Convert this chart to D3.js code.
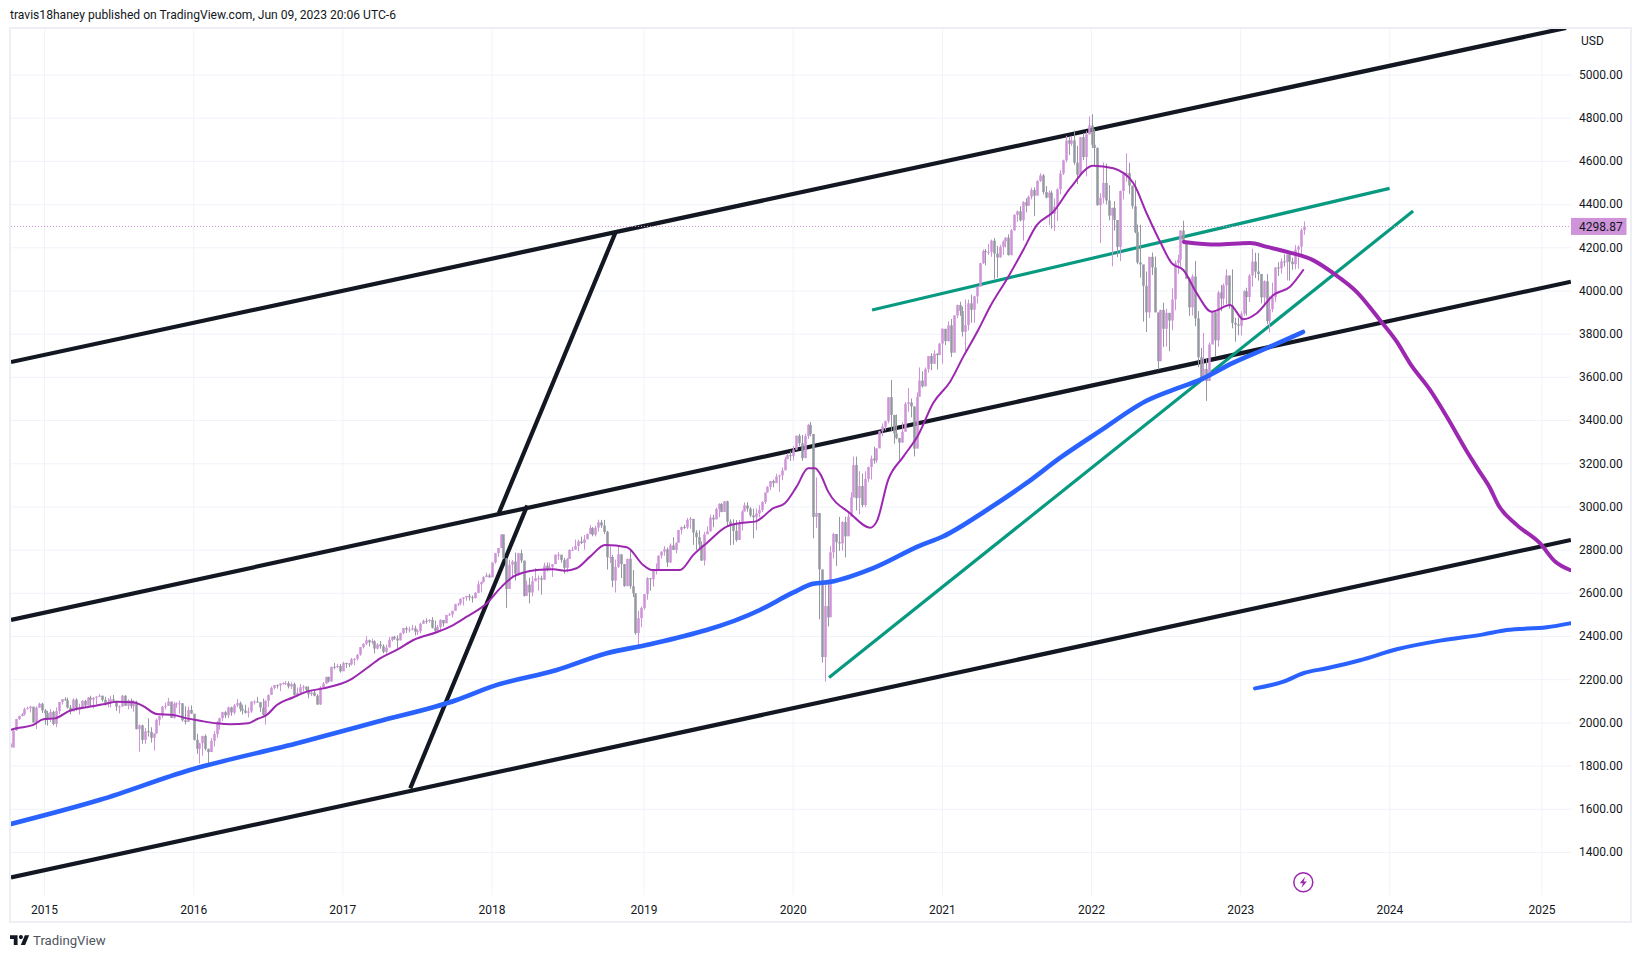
<!DOCTYPE html>
<html><head><meta charset="utf-8">
<script src="https://d3js.org/d3.v7.min.js"></script>
<style>html,body{margin:0;padding:0;background:#fff}svg{display:block}text{font-family:Roboto,sans-serif}</style>
</head><body><svg id="c" width="1641" height="958"></svg>
<script>
// Weekly S&P 500 candles, starting week of 13 Oct 2014
const firstOpen = 1905;
const closes = [
1886,1965,2018,2032,2040,2064,2068,2075,2002,2071,2089,2058,
2045,2019,2051,1995,2055,2097,2110,2105,2071,2053,2108,2061,2067,2102,2081,2117,2108,2116,2122,2126,2107,2092,2094,2109,2102,2076,2076,2126,2079,2104,2078,2092,1971,1989,1921,1961,1958,1931,1951,2014,2033,2075,2079,2099,2023,2089,2090,2091,2012,2005,2060,2043,
1922,1880,1906,1940,1880,1865,1917,1948,1999,2022,2050,2035,2072,2048,2081,2092,2065,2057,2047,2053,2099,2099,2096,2071,2037,2103,2130,2162,2175,2174,2183,2184,2184,2169,2180,2128,2139,2165,2168,2153,2133,2141,2126,2085,2164,2182,2213,2192,2260,2258,2264,2239,
2277,2275,2271,2295,2297,2316,2351,2367,2383,2373,2378,2344,2363,2355,2329,2349,2384,2399,2391,2382,2416,2439,2432,2433,2438,2423,2425,2459,2473,2472,2477,2441,2425,2444,2477,2461,2500,2502,2519,2549,2553,2575,2581,2588,2582,2578,2602,2642,2652,2675,2683,2674,
2743,2786,2810,2873,2762,2620,2732,2747,2691,2786,2752,2588,2640,2604,2656,2670,2670,2663,2728,2713,2721,2735,2779,2779,2755,2718,2759,2801,2802,2819,2840,2833,2850,2874,2902,2872,2904,2929,2914,2885,2767,2768,2659,2723,2781,2736,2633,2760,2633,2600,2416,2485,2532,
2596,2670,2665,2706,2707,2775,2793,2804,2743,2822,2801,2834,2893,2907,2905,2940,2945,2881,2860,2826,2752,2873,2887,2950,2942,2990,3014,2977,3026,2932,2918,2889,2847,2926,2979,3007,2992,2961,2952,2970,2986,3023,3067,3093,3120,3110,3141,3146,3169,3221,3240,3235,
3265,3330,3295,3226,3328,3380,3338,2954,2972,2711,2305,2541,2489,2790,2875,2837,2831,2930,2864,2955,3044,3194,3041,3097,3009,3130,3185,3224,3215,3271,3351,3372,3397,3508,3426,3340,3319,3298,3348,3477,3484,3465,3270,3510,3585,3558,3638,3699,3663,3709,3703,3756,
3825,3768,3841,3714,3887,3935,3907,3811,3842,3943,3913,3975,4020,4129,4185,4180,4181,4233,4173,4155,4204,4229,4247,4166,4280,4352,4369,4327,4411,4395,4436,4468,4441,4509,4535,4458,4432,4455,4357,4391,4471,4544,4605,4697,4682,4697,4594,4538,4712,4620,4725,4766,
4677,4662,4397,4431,4500,4419,4349,4385,4329,4204,4463,4543,4546,4488,4393,4272,4132,4123,4024,3901,4158,4109,3901,3675,3912,3825,3899,3863,3961,4130,4145,4280,4228,4057,3924,4067,3873,3693,3586,3639,3583,3752,3901,3771,3993,3965,4026,4072,3934,3852,3845,3839,
3895,3999,3972,4071,4136,4090,4079,3970,4045,3861,3916,3971,4109,4105,4137,4133,4169,4136,4124,4191,4205,4282,4298.87];
const highs = [
1906,1965,2018,2034,2046,2071,2075,2079,2075,2077,2094,2093,
2064,2056,2064,2057,2072,2097,2110,2119,2117,2083,2114,2114,2089,2106,2107,2120,2126,2120,2123,2134,2126,2121,2115,2126,2130,2085,2082,2129,2128,2110,2113,2105,2103,1993,1992,1976,2021,1980,1952,2020,2034,2079,2094,2116,2093,2097,2095,2104,2090,2077,2076,2081,
2038,1950,1908,1940,1947,1881,1930,1962,2009,2024,2052,2056,2075,2075,2087,2111,2099,2084,2084,2071,2100,2105,2120,2096,2113,2104,2131,2169,2176,2178,2183,2188,2194,2193,2188,2187,2164,2180,2175,2169,2169,2147,2152,2133,2171,2189,2214,2214,2260,2278,2274,2273,
2283,2279,2276,2301,2300,2319,2352,2368,2401,2386,2390,2382,2370,2379,2364,2362,2398,2400,2403,2406,2418,2440,2446,2446,2454,2450,2433,2464,2478,2484,2480,2490,2474,2454,2480,2475,2500,2509,2519,2552,2555,2576,2582,2588,2597,2590,2606,2658,2655,2680,2695,2692,
2743,2787,2810,2873,2870,2763,2755,2754,2789,2787,2802,2741,2659,2672,2680,2717,2683,2682,2742,2743,2742,2736,2779,2791,2774,2764,2764,2804,2816,2849,2848,2863,2870,2877,2916,2907,2912,2941,2940,2940,2889,2817,2778,2756,2815,2775,2694,2760,2800,2708,2601,2520,2539,
2597,2675,2670,2708,2738,2775,2795,2819,2812,2831,2860,2836,2894,2910,2917,2949,2954,2931,2892,2892,2841,2884,2910,2964,2964,2996,3017,3018,3028,3029,2943,2943,2939,2940,2985,3021,3022,3000,2992,2993,3008,3027,3067,3097,3120,3127,3154,3150,3183,3232,3248,3258,
3282,3330,3338,3333,3338,3385,3393,3338,3137,2882,2601,2638,2641,2819,2880,2871,2954,2934,2955,2980,3068,3233,3233,3165,3155,3165,3186,3238,3279,3272,3352,3387,3399,3509,3588,3425,3428,3320,3393,3486,3550,3502,3465,3530,3646,3628,3646,3699,3712,3726,3712,3760,
3827,3823,3860,3870,3887,3937,3950,3928,3960,3960,3983,3978,4020,4130,4192,4195,4218,4238,4245,4209,4214,4234,4249,4262,4287,4356,4372,4393,4416,4429,4442,4478,4480,4513,4545,4541,4486,4466,4465,4429,4475,4559,4608,4718,4714,4718,4743,4672,4713,4731,4740,4808,
4818,4749,4665,4453,4595,4590,4490,4385,4416,4327,4465,4546,4637,4593,4471,4513,4308,4307,4081,4090,4158,4178,4160,3837,3914,3946,3918,3891,4012,4141,4167,4281,4325,4203,4062,4077,4139,3907,3737,3806,3685,3762,3905,3905,4001,4028,4034,4101,4052,4100,3876,3878,
3906,4003,4015,4078,4196,4177,4176,4050,4049,4078,3975,4039,4110,4133,4150,4170,4169,4186,4154,4212,4212,4290,4322];
const lows = [
1820,1886,1964,2014,2030,2034,2064,2049,2002,1972,2069,2046,
1992,1988,2004,1989,1980,2041,2085,2103,2067,2039,2055,2056,2039,2066,2072,2085,2077,2067,2085,2120,2099,2081,2072,2072,2097,2056,2044,2076,2079,2063,2067,2052,1970,1867,1903,1903,1937,1909,1872,1950,1988,2022,2062,2080,2022,2020,2070,2042,2006,1993,2005,2043,
1918,1857,1812,1848,1872,1810,1871,1891,1931,1969,2008,2022,2023,2033,2039,2073,2052,2039,2043,2025,2047,2085,2094,2050,2033,1992,2074,2131,2155,2159,2147,2178,2176,2160,2157,2127,2119,2139,2145,2142,2114,2124,2123,2084,2083,2156,2183,2187,2192,2248,2254,2233,
2245,2254,2258,2266,2267,2289,2311,2345,2360,2354,2364,2322,2340,2344,2322,2322,2358,2377,2385,2344,2382,2410,2416,2419,2428,2405,2407,2416,2458,2459,2464,2437,2417,2417,2428,2446,2474,2497,2488,2520,2541,2545,2544,2566,2566,2557,2576,2601,2605,2651,2676,2673,
2683,2737,2768,2809,2759,2532,2622,2675,2659,2682,2741,2585,2593,2553,2586,2660,2612,2594,2662,2702,2707,2676,2735,2755,2742,2691,2698,2769,2796,2808,2795,2828,2802,2854,2884,2864,2864,2886,2903,2874,2710,2740,2628,2604,2717,2671,2631,2649,2621,2583,2409,2346,2443,
2524,2570,2612,2631,2687,2705,2761,2774,2722,2741,2800,2785,2848,2873,2898,2897,2899,2825,2801,2805,2750,2729,2881,2887,2906,2952,2952,2975,2977,2914,2822,2825,2839,2853,2891,2979,2978,2952,2855,2892,2952,2976,3014,3066,3077,3091,3115,3070,3124,3183,3224,3213,
3215,3263,3281,3214,3235,3315,3327,2855,2902,2479,2280,2191,2447,2604,2761,2727,2797,2797,2766,2880,2969,3044,2984,2966,2999,3000,3115,3127,3200,3204,3285,3327,3355,3387,3349,3293,3314,3209,3298,3370,3441,3415,3234,3280,3512,3553,3569,3622,3633,3663,3636,3707,
3663,3750,3765,3694,3725,3874,3885,3789,3723,3817,3853,3853,3942,4034,4125,4118,4167,4158,4056,4061,4155,4167,4202,4164,4165,4280,4320,4322,4233,4364,4393,4424,4347,4444,4505,4447,4429,4305,4288,4278,4324,4447,4537,4595,4630,4672,4585,4495,4532,4606,4531,4733,
4662,4582,4395,4222,4405,4401,4327,4114,4279,4157,4138,4424,4506,4450,4381,4267,4124,4062,3858,3810,3875,4074,3901,3636,3675,3740,3742,3721,3818,3911,4079,4112,4218,4057,3885,3886,3837,3647,3585,3584,3491,3644,3764,3698,3742,3906,3933,3939,3918,3827,3765,3795,
3794,3885,3886,3949,4020,4060,4048,3943,3928,3846,3808,3901,3949,4069,4080,4113,4049,4048,4098,4100,4103,4166,4260];

const yearLabels = ['2015','2016','2017','2018','2019','2020','2021','2022','2023','2024','2025'];
const yearTickDates = ['2015-01-05','2016-01-04','2017-01-02','2018-01-01','2019-01-07','2020-01-06','2021-01-04','2022-01-03','2023-01-02','2024-01-01','2025-01-06'];
const priceTicks = [1400,1600,1800,2000,2200,2400,2600,2800,3000,3200,3400,3600,3800,4000,4200,4400,4600,4800,5000];
const lastPrice = 4298.87;

// overlays: positions along the time axis in weeks since 13 Oct 2014, values in USD
const blackLineWeeks = [[0.32,542.4],[0.32,544.1],[0.32,544.1],[211.05,170.4],[180.3,139.5]];
const blackLinePrices = [[3671,5218],[2477,4043],[1285,2847],[4271,2972],[3007,1697]];
const greenLineWeeks = [[300.5,480.9],[285.5,489.1]];
const greenLinePrices = [[3912,4475],[2210,4370]];
const thinMaWeeks = [0.3,2.3,8.1,11.6,15.7,20.9,26.7,32.5,37.2,43,46.4,51.1,56.9,61.6,66.2,72,76.7,83,86,89.5,93,98.8,103.4,109.2,118.5,124.3,129,134.8,140.6,148.7,153.4,159.2,166.2,170.8,175.4,178.9,183.6,189.4,193.5,197.5,202.2,207.4,215,220.7,223.7,233.5,238.2,242.8,249.8,255.6,259.7,266.1,270.1,274.2,278.2,280.6,282.4,285.2,292.8,299.8,302.1,306.1,311.4,316.6,321.8,327.7,332.3,337.5,341.6,348,353.2,357.9,363.7,369.5,377.6,384.6,391.6,396.2,400.9,405,409,413.7,418.9,425.3,429.9,434.6,440.4,446.2,450.8];
const thinMaPrices = [1968,1975,1991,2017,2021,2057,2073,2086,2098,2096,2078,2041,2037,2021,2010,1998,1994,1998,2017,2037,2083,2119,2145,2160,2199,2253,2299,2338,2384,2420,2446,2492,2554,2623,2677,2696,2708,2711,2705,2716,2770,2824,2813,2731,2708,2708,2778,2832,2909,2927,2932,2994,3017,3094,3179,3179,3153,3071,2971,2904,2932,3125,3233,3333,3481,3580,3696,3819,3927,4066,4190,4305,4367,4475,4580,4568,4499,4360,4228,4128,4097,3989,3904,3935,3869,3897,3981,4020,4097];
const thickPurpleWeeks = [409.2,420.7,432.2,438.2,445.5,454.2,461.2,469.5,477.5,483.4,488,495,500.8,507.8,511.8,515.9,518.8,525.2,533.3,538.6,543.8];
const thickPurplePrices = [4227,4215,4222,4204,4180,4143,4083,3995,3866,3765,3665,3542,3419,3258,3173,3088,3009,2917,2832,2747,2708];
const blueMaWeeks = [0.3,31.4,62.7,101.1,127.6,155.7,167.9,190.6,208,223.1,261.4,272.9,279.9,285.8,300.9,317.2,325,340.5,354.4,366,380,396.7,405.4,414.8,426.3,438.2,450.7];
const blueMaPrices = [1532,1644,1782,1909,2004,2106,2168,2245,2323,2364,2523,2603,2644,2653,2717,2821,2862,2986,3111,3227,3352,3495,3542,3588,3667,3736,3810];
const blueFutureWeeks = [434,443.9,450.8,459,470.6,483.4,498.5,513.6,521.7,535.7,543.8];
const blueFuturePrices = [2160,2191,2230,2253,2290,2341,2381,2410,2430,2443,2461];

const UP='#ce93d8', DOWN='#9598a1', BLACK='#131722', GREEN='#089981', BLUE='#2962ff', PURPLE='#9c27b0';
const PANE={l:11,t:29,r:1571,b:895};
const t0=Date.UTC(2014,9,13), WEEK=7*864e5;
const weekDate=n=>new Date(t0+n*WEEK);
const x=d3.scaleUtc().domain([new Date('2015-01-05'),new Date('2023-01-02')]).range([44.5,1240.7]);
const y=d3.scaleLinear().domain([1400,5000]).range([852.5,75]);
const svg=d3.select('#c');
svg.append('defs').append('clipPath').attr('id','pane').append('rect')
  .attr('x',PANE.l).attr('y',PANE.t).attr('width',PANE.r-PANE.l).attr('height',PANE.b-PANE.t);

// frame
svg.append('rect').attr('x',10).attr('y',28).attr('width',1621).attr('height',894).attr('fill','#fff').attr('stroke','#eeeef5').attr('stroke-width',2);

// grid
const yearDates=yearTickDates.map(s=>new Date(s));
svg.append('g').selectAll('line').data(yearDates).join('line')
  .attr('x1',d=>x(d)).attr('x2',d=>x(d)).attr('y1',PANE.t).attr('y2',PANE.b).attr('stroke','#f0f3fa');
svg.append('g').selectAll('line').data(priceTicks).join('line')
  .attr('x1',PANE.l).attr('x2',PANE.r).attr('y1',d=>y(d)).attr('y2',d=>y(d)).attr('stroke','#f0f3fa');

const plot=svg.append('g').attr('clip-path','url(#pane)');
const seg=(weeks,prices,color,w,g)=>g.selectAll(null).data(weeks).join('line')
  .attr('x1',(d,i)=>x(weekDate(d[0]))).attr('x2',(d,i)=>x(weekDate(d[1])))
  .attr('y1',(d,i)=>y(prices[i][0])).attr('y2',(d,i)=>y(prices[i][1]))
  .attr('stroke',color).attr('stroke-width',w);
seg(blackLineWeeks,blackLinePrices,BLACK,4.2,plot.append('g'));
seg(greenLineWeeks,greenLinePrices,GREEN,3.2,plot.append('g'));

// dotted last price line
plot.append('line').attr('x1',PANE.l).attr('x2',PANE.r).attr('y1',y(lastPrice)).attr('y2',y(lastPrice))
  .attr('stroke',UP).attr('stroke-width',1).attr('stroke-dasharray','1 2');

// candles
const candles=closes.map((c,i)=>({d:weekDate(i),o:i?closes[i-1]:firstOpen,c,h:highs[i],l:lows[i]}));
const cg=plot.append('g');
cg.selectAll('line').data(candles).join('line')
  .attr('x1',d=>Math.round(x(d.d))+0.5).attr('x2',d=>Math.round(x(d.d))+0.5).attr('y1',d=>y(d.h)).attr('y2',d=>y(d.l))
  .attr('stroke',d=>d.c>=d.o?UP:DOWN).attr('stroke-width',1);
cg.selectAll('rect').data(candles).join('rect')
  .attr('x',d=>Math.round(x(d.d))-0.75).attr('width',2.5)
  .attr('y',d=>Math.min(y(d.o),y(d.c))).attr('height',d=>Math.max(1,Math.abs(y(d.o)-y(d.c))))
  .attr('fill',d=>d.c>=d.o?UP:DOWN);

// indicator curves
const line=(weeks,prices,color,w)=>plot.append('path')
  .attr('d',d3.line().x((d,i)=>x(weekDate(weeks[i]))).y(d=>y(d)).curve(d3.curveMonotoneX)(prices))
  .attr('fill','none').attr('stroke',color).attr('stroke-width',w).attr('stroke-linejoin','round').attr('stroke-linecap','round');
line(blueMaWeeks,blueMaPrices,BLUE,4.6);
line(blueFutureWeeks,blueFuturePrices,BLUE,4);
line(thinMaWeeks,thinMaPrices,PURPLE,2);
line(thickPurpleWeeks,thickPurplePrices,PURPLE,4);

// axes
const ax=svg.append('g').attr('transform',`translate(0,${PANE.b})`)
  .call(d3.axisBottom(x).tickValues(yearDates).tickFormat((d,i)=>yearLabels[i]).tickSize(0).tickPadding(10).offset(0));
ax.select('.domain').remove();
ax.selectAll('text').attr('font-size',12).attr('fill','#131722').attr('font-family','Roboto');
const ay=svg.append('g').attr('transform',`translate(${PANE.r},0)`)
  .call(d3.axisRight(y).tickValues(priceTicks).tickFormat(d3.format('.2f')).tickSize(0).tickPadding(8).offset(0));
ay.select('.domain').remove();
ay.selectAll('text').attr('font-size',12).attr('fill','#131722').attr('font-family','Roboto');

svg.append('text').attr('x',1581).attr('y',44.5).attr('font-size',12).attr('fill','#131722').text('USD');
svg.append('rect').attr('x',PANE.r).attr('y',y(lastPrice)-8.5).attr('width',55.5).attr('height',17).attr('fill',UP);
svg.append('text').attr('x',PANE.r+8).attr('y',y(lastPrice)+4.3).attr('font-size',12).attr('fill','#131722').text(d3.format('.2f')(lastPrice));

// lightning icon
const icon=svg.append('g').attr('transform','translate(1303.3,882.3)');
icon.append('circle').attr('r',9.5).attr('fill','#fff').attr('stroke',PURPLE).attr('stroke-width',1.5);
icon.append('path').attr('d','M1.8,-5.5 L-3.6,0.9 L-0.4,0.9 L-1.8,5.5 L3.6,-0.9 L0.4,-0.9 Z').attr('fill',PURPLE);

// header and logo
svg.append('text').attr('x',10).attr('y',19).attr('font-size',12.1).attr('fill','#131722')
  .text('travis18haney published on TradingView.com, Jun 09, 2023 20:06 UTC-6');
svg.append('g').attr('transform','translate(10,935.2) scale(0.54)')
  .append('path').attr('fill','#131722').attr('d','M14 22H7V11H0V4h14v18zM28 22h-8l7.5-18h8L28 22z M24 7.5a3.8 3.8 0 1 1-7.6 0a3.8 3.8 0 1 1 7.6 0z').attr('transform','translate(0,-4)');
svg.append('text').attr('x',33).attr('y',945).attr('font-size',13.2).attr('fill','#50535e').text('TradingView');
</script></body></html>
